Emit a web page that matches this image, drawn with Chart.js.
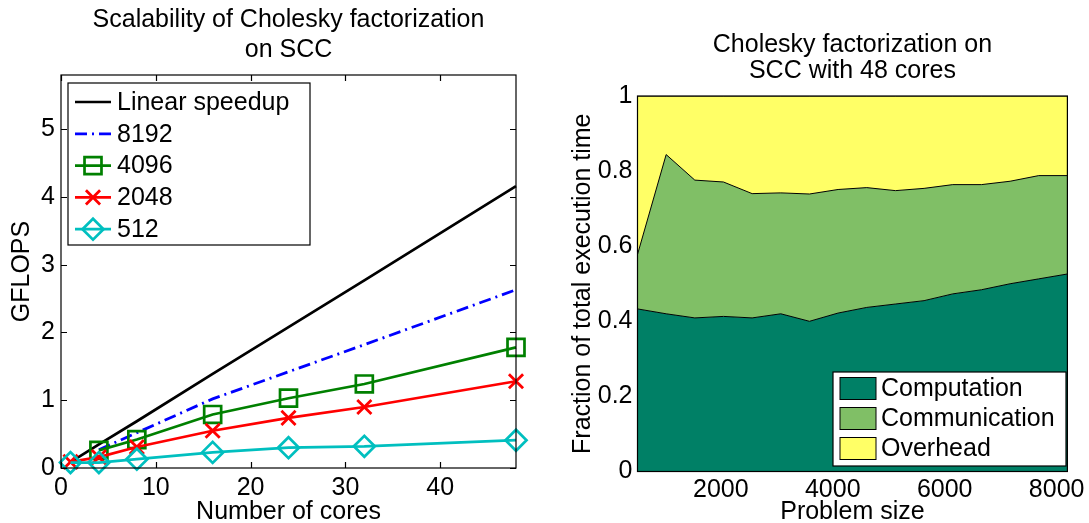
<!DOCTYPE html>
<html>
<head>
<meta charset="utf-8">
<script src="https://cdn.jsdelivr.net/npm/chart.js@4.4.0/dist/chart.umd.min.js"></script>
<style>
  html, body { margin: 0; padding: 0; background: #fff; }
  #left { position: absolute; left: 0; top: 0; }
  #right { position: absolute; left: 545px; top: 0; }
</style>
</head>
<body>
<canvas id="left" width="545" height="523"></canvas>
<canvas id="right" width="544" height="523"></canvas>
<script>
// left: GFLOPS vs number of cores
const cores = [1, 4, 8, 16, 24, 32, 48];
const linearSpeedup = [0.087, 0.35, 0.69, 1.39, 2.08, 2.77, 4.16];
const gflops8192 = [null, 0.27, 0.52, 1.02, 1.42, 1.82, 2.63];
const gflops4096 = [null, 0.26, 0.42, 0.79, 1.03, 1.24, 1.78];
const gflops2048 = [0.09, 0.16, 0.31, 0.55, 0.74, 0.90, 1.28];
const gflops512 = [0.08, 0.08, 0.13, 0.23, 0.30, 0.32, 0.41];
const coreTicks = [0, 10, 20, 30, 40];
const gflopsTicks = [0, 1, 2, 3, 4, 5];

// right: breakdown of execution time, 48 cores
const problemSizes = [512, 1024, 1536, 2048, 2560, 3072, 3584, 4096, 4608, 5120, 5632, 6144, 6656, 7168, 7680, 8192];
const computation = [0.433, 0.420, 0.409, 0.413, 0.409, 0.420, 0.400, 0.422, 0.437, 0.446, 0.455, 0.473, 0.484, 0.500, 0.513, 0.526];
const communication = [0.145, 0.424, 0.367, 0.358, 0.331, 0.322, 0.339, 0.329, 0.319, 0.302, 0.299, 0.291, 0.280, 0.273, 0.275, 0.262];
const overhead = [0.422, 0.156, 0.224, 0.229, 0.260, 0.258, 0.261, 0.249, 0.244, 0.252, 0.246, 0.236, 0.236, 0.227, 0.212, 0.212];
const sizeTicks = [2000, 4000, 6000, 8000];
const fractionTicks = [0, 0.2, 0.4, 0.6, 0.8, 1];

Chart.defaults.font.family = "'Liberation Sans', Arial, sans-serif";
Chart.defaults.color = '#000';

const pts = (xs, ys) => xs.map((x, i) => ({ x: x, y: ys[i] })).filter(p => p.y !== null);
const fixTicks = vals => scale => { scale.ticks = vals.map(v => ({ value: v })); };
const plain = v => String(v);

function marker(ctx, ds, x, y) {
  if (!ds.pointStyle || !ds.pointRadius) return;
  ctx.save();
  ctx.strokeStyle = ds.borderColor;
  ctx.fillStyle = 'rgba(0,0,0,0)';
  ctx.lineWidth = ds.pointBorderWidth || ds.borderWidth;
  ctx.setLineDash([]);
  Chart.helpers.drawPoint(ctx, { pointStyle: ds.pointStyle, radius: ds.pointRadius, rotation: 0, borderWidth: ctx.lineWidth }, x, y);
  ctx.restore();
}

// axes box, inward ticks and the legend box
const frame = {
  id: 'frame',
  afterDatasetsDraw(chart, args, opts) {
    const { ctx, chartArea: a, scales } = chart;
    ctx.save();
    ctx.strokeStyle = '#000';
    ctx.lineWidth = 1.2;
    if (opts.ticks) {
      ctx.beginPath();
      scales.x.ticks.forEach(t => {
        const px = Math.round(scales.x.getPixelForValue(t.value)) + 0.5;
        ctx.moveTo(px, a.bottom); ctx.lineTo(px, a.bottom - 6);
        ctx.moveTo(px, a.top); ctx.lineTo(px, a.top + 6);
      });
      scales.y.ticks.forEach(t => {
        const py = Math.round(scales.y.getPixelForValue(t.value)) + 0.5;
        ctx.moveTo(a.left, py); ctx.lineTo(a.left + 6, py);
        ctx.moveTo(a.right, py); ctx.lineTo(a.right - 6, py);
      });
      ctx.stroke();
    }
    ctx.strokeRect(a.left, a.top, a.right - a.left, a.bottom - a.top);

    const lg = opts.legend;
    if (lg) {
      ctx.fillStyle = '#fff';
      ctx.fillRect(lg.x, lg.y, lg.w, lg.h);
      ctx.strokeRect(lg.x, lg.y, lg.w, lg.h);
      ctx.font = "25px 'Liberation Sans', Arial, sans-serif";
      ctx.textBaseline = 'middle';
      chart.data.datasets.forEach((ds, i) => {
        const ry = lg.y + lg.first + i * lg.step;
        if (lg.swatch) {
          ctx.fillStyle = ds.backgroundColor;
          ctx.fillRect(lg.x + 7, ry - 11, 36, 22);
          ctx.lineWidth = 1;
          ctx.strokeRect(lg.x + 7, ry - 11, 36, 22);
        } else {
          ctx.save();
          ctx.strokeStyle = ds.borderColor;
          ctx.lineWidth = ds.borderWidth;
          ctx.setLineDash(ds.borderDash || []);
          ctx.beginPath();
          ctx.moveTo(lg.x + 7, ry); ctx.lineTo(lg.x + 43, ry);
          ctx.stroke();
          ctx.restore();
          marker(ctx, ds, lg.x + 25, ry);
        }
        ctx.fillStyle = '#000';
        ctx.fillText(ds.label, lg.x + lg.text, ry + 1);
      });
    }
    ctx.restore();
  }
};

const tickFont = { size: 25 };
const titleFont = { size: 25, lineHeight: 1 };

new Chart(document.getElementById('left'), {
  type: 'line',
  data: {
    datasets: [
      { label: 'Linear speedup', data: pts(cores, linearSpeedup), borderColor: '#000', borderWidth: 2.7, pointRadius: 0, order: 5 },
      { label: '8192', data: pts(cores, gflops8192), borderColor: '#0000ff', borderWidth: 2.8, borderDash: [12, 5, 2, 5], pointRadius: 0, order: 4 },
      { label: '4096', data: pts(cores, gflops4096), borderColor: '#008000', borderWidth: 2.7, pointStyle: 'rect', pointRadius: 12, pointBorderWidth: 2.7, order: 3 },
      { label: '2048', data: pts(cores, gflops2048), borderColor: '#ff0000', borderWidth: 2.7, pointStyle: 'crossRot', pointRadius: 10, pointBorderWidth: 2.8, order: 2 },
      { label: '512', data: pts(cores, gflops512), borderColor: '#00bfbf', borderWidth: 2.7, pointStyle: 'rectRot', pointRadius: 10.5, pointBorderWidth: 2.7, order: 1 }
    ]
  },
  options: {
    responsive: false,
    animation: false,
    devicePixelRatio: 1,
    layout: { padding: { left: 0, right: 29, top: 0, bottom: 0 } },
    elements: {
      line: { tension: 0, fill: false },
      point: { backgroundColor: 'rgba(0,0,0,0)', hoverRadius: 0 }
    },
    datasets: { line: { clip: false } },
    scales: {
      x: {
        type: 'linear', min: 0, max: 48,
        afterBuildTicks: fixTicks(coreTicks),
        afterFit: s => { s.height = 55; },
        grid: { display: false, drawTicks: false },
        border: { display: false },
        ticks: { font: tickFont, padding: 5, maxRotation: 0, autoSkip: false, callback: plain },
        title: { display: true, text: 'Number of cores', font: titleFont, padding: { top: 0, bottom: -2 } }
      },
      y: {
        min: 0, max: 5.8,
        afterBuildTicks: fixTicks(gflopsTicks),
        afterFit: s => { s.width = 61; },
        grid: { display: false, drawTicks: false },
        border: { display: false },
        ticks: { font: tickFont, padding: 6, callback: plain },
        title: { display: true, text: 'GFLOPS', font: titleFont, padding: { top: 10, bottom: 0 } }
      }
    },
    plugins: {
      legend: { display: false },
      tooltip: { enabled: false },
      title: {
        display: true, fullSize: false,
        text: ['Scalability of Cholesky factorization', 'on SCC'],
        font: { size: 25, lineHeight: 30 / 25, weight: 'normal' },
        padding: { top: 5, bottom: 10 }
      },
      frame: { ticks: true, legend: { x: 68, y: 83, w: 242, h: 162, first: 19, step: 31.8, text: 49 } }
    }
  },
  plugins: [frame]
});

new Chart(document.getElementById('right'), {
  type: 'line',
  data: {
    datasets: [
      { label: 'Computation', data: pts(problemSizes, computation), backgroundColor: '#008066', fill: 'origin' },
      { label: 'Communication', data: pts(problemSizes, communication), backgroundColor: '#80bf66', fill: '-1' },
      { label: 'Overhead', data: pts(problemSizes, overhead), backgroundColor: '#ffff66', fill: '-1' }
    ]
  },
  options: {
    responsive: false,
    animation: false,
    devicePixelRatio: 1,
    layout: { padding: { left: 0, right: 17, top: 0, bottom: 0 } },
    elements: {
      line: { tension: 0, borderColor: '#000', borderWidth: 1 },
      point: { radius: 0, hoverRadius: 0 }
    },
    scales: {
      x: {
        type: 'linear', min: 512, max: 8192,
        afterBuildTicks: fixTicks(sizeTicks),
        afterFit: s => { s.height = 51.5; },
        grid: { display: false, drawTicks: false },
        border: { display: false },
        ticks: { font: tickFont, padding: 4, maxRotation: 0, autoSkip: false, callback: plain },
        title: { display: true, text: 'Problem size', font: titleFont, padding: { top: 0, bottom: -2 } }
      },
      y: {
        stacked: true, min: 0, max: 1,
        afterBuildTicks: fixTicks(fractionTicks),
        afterFit: s => { s.width = 92.5; },
        grid: { display: false, drawTicks: false },
        border: { display: false },
        ticks: { font: tickFont, padding: 5, callback: plain },
        title: { display: true, text: 'Fraction of total execution time', font: titleFont, padding: { top: 26, bottom: 0 } }
      }
    },
    plugins: {
      legend: { display: false },
      tooltip: { enabled: false },
      title: {
        display: true, fullSize: false,
        text: ['Cholesky factorization on', 'SCC with 48 cores'],
        font: { size: 25, lineHeight: 26 / 25, weight: 'normal' },
        padding: { top: 32, bottom: 12 }
      },
      frame: { ticks: false, legend: { x: 288, y: 372, w: 233, h: 94, first: 16.5, step: 30, text: 48, swatch: true } }
    }
  },
  plugins: [frame]
});
</script>
</body>
</html>
